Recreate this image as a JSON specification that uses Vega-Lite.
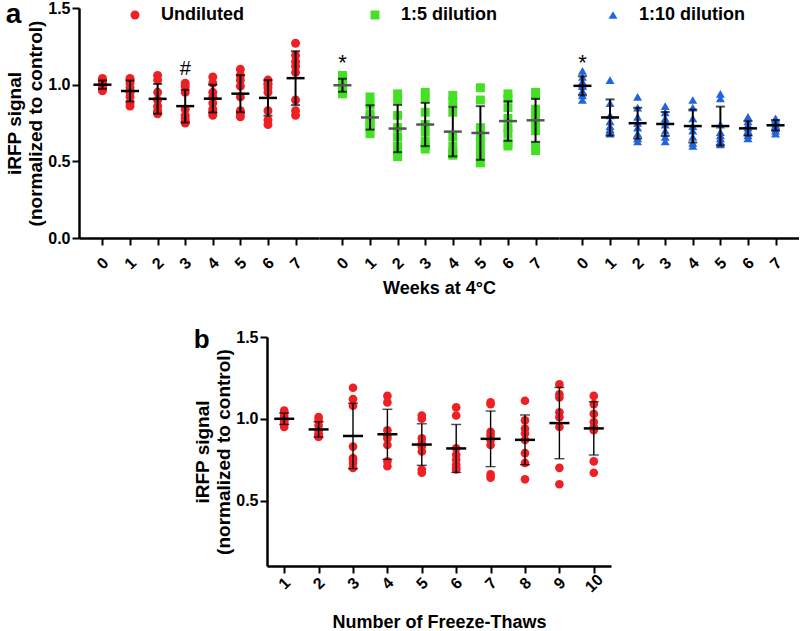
{
  "$schema": "https://vega.github.io/schema/vega-lite/v6.json",
  "padding": {"left": 5, "top": 0, "right": 0, "bottom": 0},
  "datasets": {
    "undiluted": [
      {"week": 0, "value": 1.04}, {"week": 0, "value": 1.03}, {"week": 0, "value": 1.01}, {"week": 0, "value": 1.0}, {"week": 0, "value": 1.0}, {"week": 0, "value": 0.99}, {"week": 0, "value": 0.97}, {"week": 0, "value": 0.96},
      {"week": 1, "value": 1.04}, {"week": 1, "value": 1.03}, {"week": 1, "value": 1.01}, {"week": 1, "value": 0.98}, {"week": 1, "value": 0.95}, {"week": 1, "value": 0.92}, {"week": 1, "value": 0.88}, {"week": 1, "value": 0.86},
      {"week": 2, "value": 1.06}, {"week": 2, "value": 1.03}, {"week": 2, "value": 0.95}, {"week": 2, "value": 0.9}, {"week": 2, "value": 0.86}, {"week": 2, "value": 0.83}, {"week": 2, "value": 0.82}, {"week": 2, "value": 0.81},
      {"week": 3, "value": 1.01}, {"week": 3, "value": 0.99}, {"week": 3, "value": 0.95}, {"week": 3, "value": 0.84}, {"week": 3, "value": 0.8}, {"week": 3, "value": 0.78}, {"week": 3, "value": 0.76}, {"week": 3, "value": 0.75},
      {"week": 4, "value": 1.05}, {"week": 4, "value": 1.01}, {"week": 4, "value": 0.95}, {"week": 4, "value": 0.92}, {"week": 4, "value": 0.88}, {"week": 4, "value": 0.84}, {"week": 4, "value": 0.82}, {"week": 4, "value": 0.8},
      {"week": 5, "value": 1.1}, {"week": 5, "value": 1.06}, {"week": 5, "value": 1.03}, {"week": 5, "value": 0.99}, {"week": 5, "value": 0.92}, {"week": 5, "value": 0.83}, {"week": 5, "value": 0.81}, {"week": 5, "value": 0.79},
      {"week": 6, "value": 1.03}, {"week": 6, "value": 1.01}, {"week": 6, "value": 1.0}, {"week": 6, "value": 0.98}, {"week": 6, "value": 0.95}, {"week": 6, "value": 0.83}, {"week": 6, "value": 0.77}, {"week": 6, "value": 0.74},
      {"week": 7, "value": 1.27}, {"week": 7, "value": 1.19}, {"week": 7, "value": 1.15}, {"week": 7, "value": 1.12}, {"week": 7, "value": 1.08}, {"week": 7, "value": 0.9}, {"week": 7, "value": 0.83}, {"week": 7, "value": 0.8}
    ],
    "dil5": [
      {"week": 0, "value": 1.06}, {"week": 0, "value": 1.04}, {"week": 0, "value": 1.02}, {"week": 0, "value": 1.0}, {"week": 0, "value": 0.99}, {"week": 0, "value": 0.97}, {"week": 0, "value": 0.95}, {"week": 0, "value": 0.94},
      {"week": 1, "value": 0.92}, {"week": 1, "value": 0.87}, {"week": 1, "value": 0.81}, {"week": 1, "value": 0.79}, {"week": 1, "value": 0.76}, {"week": 1, "value": 0.74}, {"week": 1, "value": 0.72}, {"week": 1, "value": 0.68},
      {"week": 2, "value": 0.94}, {"week": 2, "value": 0.9}, {"week": 2, "value": 0.8}, {"week": 2, "value": 0.72}, {"week": 2, "value": 0.66}, {"week": 2, "value": 0.6}, {"week": 2, "value": 0.56}, {"week": 2, "value": 0.53},
      {"week": 3, "value": 0.95}, {"week": 3, "value": 0.91}, {"week": 3, "value": 0.82}, {"week": 3, "value": 0.74}, {"week": 3, "value": 0.69}, {"week": 3, "value": 0.63}, {"week": 3, "value": 0.6}, {"week": 3, "value": 0.58},
      {"week": 4, "value": 0.93}, {"week": 4, "value": 0.89}, {"week": 4, "value": 0.82}, {"week": 4, "value": 0.66}, {"week": 4, "value": 0.6}, {"week": 4, "value": 0.56}, {"week": 4, "value": 0.55}, {"week": 4, "value": 0.54},
      {"week": 5, "value": 0.98}, {"week": 5, "value": 0.9}, {"week": 5, "value": 0.72}, {"week": 5, "value": 0.67}, {"week": 5, "value": 0.62}, {"week": 5, "value": 0.57}, {"week": 5, "value": 0.53}, {"week": 5, "value": 0.49},
      {"week": 6, "value": 0.94}, {"week": 6, "value": 0.91}, {"week": 6, "value": 0.85}, {"week": 6, "value": 0.78}, {"week": 6, "value": 0.72}, {"week": 6, "value": 0.68}, {"week": 6, "value": 0.62}, {"week": 6, "value": 0.6},
      {"week": 7, "value": 0.95}, {"week": 7, "value": 0.93}, {"week": 7, "value": 0.84}, {"week": 7, "value": 0.8}, {"week": 7, "value": 0.75}, {"week": 7, "value": 0.7}, {"week": 7, "value": 0.6}, {"week": 7, "value": 0.57}
    ],
    "dil10": [
      {"week": 0, "value": 1.09}, {"week": 0, "value": 1.05}, {"week": 0, "value": 1.02}, {"week": 0, "value": 1.0}, {"week": 0, "value": 0.99}, {"week": 0, "value": 0.96}, {"week": 0, "value": 0.93}, {"week": 0, "value": 0.9},
      {"week": 1, "value": 1.03}, {"week": 1, "value": 0.88}, {"week": 1, "value": 0.8}, {"week": 1, "value": 0.76}, {"week": 1, "value": 0.73}, {"week": 1, "value": 0.71}, {"week": 1, "value": 0.7}, {"week": 1, "value": 0.68},
      {"week": 2, "value": 0.92}, {"week": 2, "value": 0.85}, {"week": 2, "value": 0.79}, {"week": 2, "value": 0.75}, {"week": 2, "value": 0.72}, {"week": 2, "value": 0.68}, {"week": 2, "value": 0.65}, {"week": 2, "value": 0.63},
      {"week": 3, "value": 0.86}, {"week": 3, "value": 0.82}, {"week": 3, "value": 0.78}, {"week": 3, "value": 0.76}, {"week": 3, "value": 0.74}, {"week": 3, "value": 0.7}, {"week": 3, "value": 0.66}, {"week": 3, "value": 0.63},
      {"week": 4, "value": 0.9}, {"week": 4, "value": 0.85}, {"week": 4, "value": 0.78}, {"week": 4, "value": 0.73}, {"week": 4, "value": 0.7}, {"week": 4, "value": 0.66}, {"week": 4, "value": 0.62}, {"week": 4, "value": 0.6},
      {"week": 5, "value": 0.94}, {"week": 5, "value": 0.91}, {"week": 5, "value": 0.74}, {"week": 5, "value": 0.69}, {"week": 5, "value": 0.67}, {"week": 5, "value": 0.65}, {"week": 5, "value": 0.63}, {"week": 5, "value": 0.61},
      {"week": 6, "value": 0.79}, {"week": 6, "value": 0.76}, {"week": 6, "value": 0.74}, {"week": 6, "value": 0.72}, {"week": 6, "value": 0.7}, {"week": 6, "value": 0.69}, {"week": 6, "value": 0.67}, {"week": 6, "value": 0.65},
      {"week": 7, "value": 0.78}, {"week": 7, "value": 0.77}, {"week": 7, "value": 0.76}, {"week": 7, "value": 0.74}, {"week": 7, "value": 0.73}, {"week": 7, "value": 0.72}, {"week": 7, "value": 0.7}, {"week": 7, "value": 0.68}
    ],
    "thaw": [
      {"cycle": 1, "value": 1.05}, {"cycle": 1, "value": 1.04}, {"cycle": 1, "value": 1.02}, {"cycle": 1, "value": 1.0}, {"cycle": 1, "value": 0.99}, {"cycle": 1, "value": 0.98}, {"cycle": 1, "value": 0.97}, {"cycle": 1, "value": 0.95},
      {"cycle": 2, "value": 1.01}, {"cycle": 2, "value": 0.99}, {"cycle": 2, "value": 0.96}, {"cycle": 2, "value": 0.93}, {"cycle": 2, "value": 0.91}, {"cycle": 2, "value": 0.9}, {"cycle": 2, "value": 0.89}, {"cycle": 2, "value": 0.89},
      {"cycle": 3, "value": 1.19}, {"cycle": 3, "value": 1.12}, {"cycle": 3, "value": 1.08}, {"cycle": 3, "value": 0.83}, {"cycle": 3, "value": 0.76}, {"cycle": 3, "value": 0.73}, {"cycle": 3, "value": 0.7}, {"cycle": 3, "value": 0.75},
      {"cycle": 4, "value": 1.14}, {"cycle": 4, "value": 1.1}, {"cycle": 4, "value": 0.93}, {"cycle": 4, "value": 0.9}, {"cycle": 4, "value": 0.88}, {"cycle": 4, "value": 0.84}, {"cycle": 4, "value": 0.74}, {"cycle": 4, "value": 0.71},
      {"cycle": 5, "value": 1.02}, {"cycle": 5, "value": 1.0}, {"cycle": 5, "value": 0.88}, {"cycle": 5, "value": 0.85}, {"cycle": 5, "value": 0.83}, {"cycle": 5, "value": 0.8}, {"cycle": 5, "value": 0.69}, {"cycle": 5, "value": 0.67},
      {"cycle": 6, "value": 1.07}, {"cycle": 6, "value": 1.02}, {"cycle": 6, "value": 0.82}, {"cycle": 6, "value": 0.78}, {"cycle": 6, "value": 0.75}, {"cycle": 6, "value": 0.72}, {"cycle": 6, "value": 0.7}, {"cycle": 6, "value": 0.69},
      {"cycle": 7, "value": 1.1}, {"cycle": 7, "value": 1.09}, {"cycle": 7, "value": 0.92}, {"cycle": 7, "value": 0.9}, {"cycle": 7, "value": 0.87}, {"cycle": 7, "value": 0.84}, {"cycle": 7, "value": 0.66}, {"cycle": 7, "value": 0.64},
      {"cycle": 8, "value": 1.11}, {"cycle": 8, "value": 0.99}, {"cycle": 8, "value": 0.94}, {"cycle": 8, "value": 0.91}, {"cycle": 8, "value": 0.87}, {"cycle": 8, "value": 0.79}, {"cycle": 8, "value": 0.73}, {"cycle": 8, "value": 0.63},
      {"cycle": 9, "value": 1.21}, {"cycle": 9, "value": 1.15}, {"cycle": 9, "value": 1.13}, {"cycle": 9, "value": 1.04}, {"cycle": 9, "value": 1.01}, {"cycle": 9, "value": 0.95}, {"cycle": 9, "value": 0.7}, {"cycle": 9, "value": 0.6},
      {"cycle": 10, "value": 1.14}, {"cycle": 10, "value": 1.09}, {"cycle": 10, "value": 1.03}, {"cycle": 10, "value": 0.98}, {"cycle": 10, "value": 0.95}, {"cycle": 10, "value": 0.93}, {"cycle": 10, "value": 0.74}, {"cycle": 10, "value": 0.67}
    ],
    "notes": [
      {"group": "Undiluted", "week": 3, "value": 1.1, "label": "#"},
      {"group": "1:5 dilution", "week": 0, "value": 1.14, "label": "*"},
      {"group": "1:10 dilution", "week": 0, "value": 1.14, "label": "*"}
    ]
  },
  "config": {
    "font": "Liberation Sans",
    "view": {"stroke": null},
    "axis": {
      "domainColor": "black", "domainWidth": 2.5, "tickColor": "black", "tickWidth": 2, "tickSize": 7,
      "labelColor": "black", "labelFont": "Liberation Sans", "labelFontSize": 16, "labelFontWeight": "bold",
      "titleColor": "black", "titleFont": "Liberation Sans", "titleFontSize": 19, "titleFontWeight": "bold",
      "grid": false, "labelPadding": 2, "titlePadding": 2, "titleLineHeight": 21
    },
    "axisX": {"labelAngle": -45, "labelAlign": "center", "labelBaseline": "middle", "labelPadding": 10, "labelFontSize": 16, "titleFontSize": 18},
    "legend": {
      "orient": "none", "title": null, "labelFont": "Liberation Sans", "labelFontSize": 18, "labelFontWeight": "bold",
      "labelColor": "black", "symbolSize": 80, "symbolStrokeWidth": 0, "labelOffset": 17, "padding": 0
    },
    "title": {"font": "Liberation Sans", "fontWeight": "bold", "color": "black"}
  },
  "center": true,
  "spacing": 29,
  "vconcat": [
    {
      "title": {"text": "a", "anchor": "start", "frame": "bounds", "fontSize": 28, "offset": -29},
      "spacing": 0,
      "resolve": {"scale": {"color": "independent", "x": "independent", "y": "independent"}},
      "hconcat": [
        {
          "width": 240, "height": 230,
          "encoding": {
            "x": {"field": "week", "type": "ordinal", "scale": {"type": "point", "padding": 0.85}, "title": null, "axis": {"labelPadding": 18}},
            "y": {"field": "value", "type": "quantitative", "scale": {"domain": [0, 1.5]}, "title": ["iRFP signal", "(normalized to control)"], "axis": {"values": [0, 0.5, 1, 1.5], "format": ".1f"}}
          },
          "layer": [
            {"data": {"name": "undiluted"}, "mark": {"type": "point", "filled": true, "opacity": 1, "size": 80, "shape": "circle"},
             "encoding": {"color": {"datum": "Undiluted", "type": "nominal", "scale": {"domain": ["Undiluted"], "range": ["#ee2024"]}, "legend": {"legendX": 47, "legendY": -2, "symbolType": "circle"}}}},
            {"data": {"name": "undiluted"}, "mark": {"type": "errorbar", "extent": "stdev", "ticks": {"size": 9, "thickness": 2, "color": "black"}, "rule": {"strokeWidth": 2, "color": "black"}}},
            {"data": {"name": "undiluted"}, "mark": {"type": "tick", "size": 18, "thickness": 2.5, "color": "black"},
             "encoding": {"y": {"aggregate": "mean", "field": "value", "type": "quantitative", "title": ["iRFP signal", "(normalized to control)"]}}},
            {"data": {"name": "notes"}, "transform": [{"filter": "datum.group === 'Undiluted'"}], "mark": {"type": "text", "fontSize": 20, "font": "Liberation Sans", "color": "black"},
             "encoding": {"text": {"field": "label"}}}
          ]
        },
        {
          "width": 240, "height": 230,
          "encoding": {
            "x": {"field": "week", "type": "ordinal", "scale": {"type": "point", "padding": 0.85}, "title": "Weeks at 4°C", "axis": {"labelPadding": 18, "titlePadding": 8}},
            "y": {"field": "value", "type": "quantitative", "scale": {"domain": [0, 1.5]}, "axis": null}
          },
          "layer": [
            {"data": {"name": "dil5"}, "mark": {"type": "point", "filled": true, "opacity": 1, "size": 80, "shape": "square"},
             "encoding": {"color": {"datum": "1:5 dilution", "type": "nominal", "scale": {"domain": ["1:5 dilution"], "range": ["#44e026"]}, "legend": {"legendX": 47, "legendY": -2, "symbolType": "square"}}}},
            {"data": {"name": "dil5"}, "mark": {"type": "errorbar", "extent": "stdev", "ticks": {"size": 9, "thickness": 2, "color": "black"}, "rule": {"strokeWidth": 2, "color": "black"}}},
            {"data": {"name": "dil5"}, "mark": {"type": "tick", "size": 18, "thickness": 2.5, "color": "#555555"},
             "encoding": {"y": {"aggregate": "mean", "field": "value", "type": "quantitative", "axis": null}}},
            {"data": {"name": "notes"}, "transform": [{"filter": "datum.group === '1:5 dilution'"}], "mark": {"type": "text", "fontSize": 22, "font": "Liberation Sans", "color": "black"},
             "encoding": {"text": {"field": "label"}}}
          ]
        },
        {
          "width": 240, "height": 230,
          "encoding": {
            "x": {"field": "week", "type": "ordinal", "scale": {"type": "point", "padding": 0.85}, "title": null, "axis": {"labelPadding": 18}},
            "y": {"field": "value", "type": "quantitative", "scale": {"domain": [0, 1.5]}, "axis": null}
          },
          "layer": [
            {"data": {"name": "dil10"}, "mark": {"type": "point", "filled": true, "opacity": 1, "size": 80, "shape": "triangle-up"},
             "encoding": {"color": {"datum": "1:10 dilution", "type": "nominal", "scale": {"domain": ["1:10 dilution"], "range": ["#2264e0"]}, "legend": {"legendX": 45, "legendY": -2, "symbolType": "triangle-up"}}}},
            {"data": {"name": "dil10"}, "mark": {"type": "errorbar", "extent": "stdev", "ticks": {"size": 9, "thickness": 2, "color": "black"}, "rule": {"strokeWidth": 2, "color": "black"}}},
            {"data": {"name": "dil10"}, "mark": {"type": "tick", "size": 18, "thickness": 2.5, "color": "black"},
             "encoding": {"y": {"aggregate": "mean", "field": "value", "type": "quantitative", "axis": null}}},
            {"data": {"name": "notes"}, "transform": [{"filter": "datum.group === '1:10 dilution'"}], "mark": {"type": "text", "fontSize": 22, "font": "Liberation Sans", "color": "black"},
             "encoding": {"text": {"field": "label"}}}
          ]
        }
      ]
    },
    {
      "title": {"text": "b", "anchor": "start", "frame": "bounds", "fontSize": 26, "offset": -24},
      "width": 344, "height": 229,
      "data": {"name": "thaw"},
      "encoding": {
        "x": {"field": "cycle", "type": "ordinal", "scale": {"type": "point", "padding": 0.5}, "title": "Number of Freeze-Thaws", "axis": {"titlePadding": 19}},
        "y": {"field": "value", "type": "quantitative", "scale": {"domain": [0.1, 1.5]}, "title": ["iRFP signal", "(normalized to control)"], "axis": {"values": [0.5, 1, 1.5], "format": ".1f"}}
      },
      "layer": [
        {"mark": {"type": "point", "filled": true, "opacity": 1, "size": 75, "color": "#ee2024"}},
        {"mark": {"type": "errorbar", "extent": "stdev", "ticks": {"size": 10, "thickness": 1.4, "color": "black"}, "rule": {"strokeWidth": 1.4, "color": "black"}}},
        {"mark": {"type": "tick", "size": 20, "thickness": 2.5, "color": "black"},
         "encoding": {"y": {"aggregate": "mean", "field": "value", "type": "quantitative", "title": ["iRFP signal", "(normalized to control)"]}}}
      ]
    }
  ]
}
